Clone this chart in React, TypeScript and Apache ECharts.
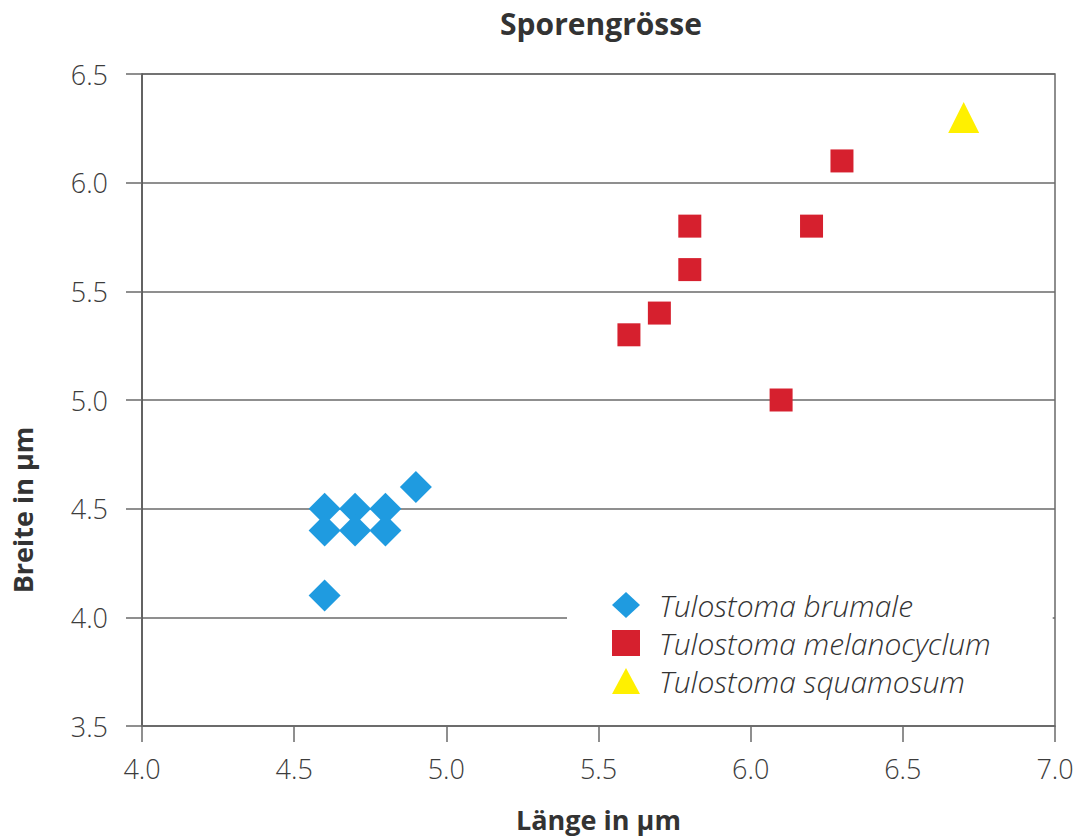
import React, { useEffect, useRef } from "react";
import * as echarts from "echarts";

const titleText = "Sporengrösse";
const xName = "Länge in µm";
const yName = "Breite in µm";

const seriesNames = ["Tulostoma brumale", "Tulostoma melanocyclum", "Tulostoma squamosum"];

const brumale: [number, number][] = [
  [4.6, 4.5], [4.6, 4.4], [4.7, 4.5], [4.7, 4.4], [4.8, 4.5], [4.8, 4.4], [4.9, 4.6], [4.6, 4.1],
];
const melanocyclum: [number, number][] = [
  [5.6, 5.3], [5.7, 5.4], [5.8, 5.8], [5.8, 5.6], [6.1, 5.0], [6.2, 5.8], [6.3, 6.1],
];
const squamosum: [number, number][] = [[6.7, 6.3]];

const colors = ["#1f9be0", "#d6202e", "#fff000"];

export default function App() {
  const ref = useRef<HTMLDivElement>(null);
  useEffect(() => {
    if (!ref.current) return;
    const chart = echarts.init(ref.current, undefined, { renderer: "svg" });
    const lineColor = "#6a6a6a";
    const labelStyle = {
      fontFamily: "Open Sans",
      fontSize: 27,
      color: "#3c3c3c",
      fontWeight: 300 as any,
    };
    chart.setOption({
      animation: false,
      backgroundColor: "#ffffff",
      title: {
        text: titleText,
        left: 596,
        top: 3,
        textAlign: "center",
        textStyle: {
          fontFamily: "Open Sans",
          fontWeight: "bold",
          fontSize: 30,
          color: "#333333",
        },
      },
      grid: {
        left: 142,
        right: 25,
        top: 74,
        bottom: 112,
        show: true,
        borderColor: lineColor,
        borderWidth: 1.5,
        backgroundColor: "transparent",
      },
      legend: {
        orient: "vertical",
        left: 567,
        top: 586,
        backgroundColor: "#ffffff",
        padding: [4, 62, 4, 45],
        itemWidth: 28,
        itemHeight: 26,
        itemGap: 8,
        data: [
          { name: seriesNames[0], icon: "diamond" },
          { name: seriesNames[1], icon: "rect" },
          { name: seriesNames[2], icon: "triangle" },
        ],
        textStyle: {
          fontFamily: "Open Sans",
          fontStyle: "italic",
          fontWeight: 300 as any,
          fontSize: 30,
          lineHeight: 30,
          color: "#333333",
          padding: [0, 0, 0, 14],
        },
      },
      xAxis: {
        type: "value",
        min: 4.0,
        max: 7.0,
        interval: 0.5,
        name: xName,
        nameLocation: "middle",
        nameGap: 80,
        nameTextStyle: {
          fontFamily: "Open Sans",
          fontWeight: "bold",
          fontSize: 27,
          color: "#333333",
        },
        axisLine: { show: true, lineStyle: { color: lineColor, width: 1.5 } },
        axisTick: { show: true, length: 16, lineStyle: { color: lineColor, width: 1.5 } },
        axisLabel: { ...labelStyle, margin: 29, formatter: (v: number) => v.toFixed(1) },
        splitLine: { show: false },
      },
      yAxis: {
        type: "value",
        min: 3.5,
        max: 6.5,
        interval: 0.5,
        axisLine: { show: true, lineStyle: { color: "#555555", width: 1.5 } },
        axisTick: { show: true, length: 16, lineStyle: { color: lineColor, width: 1.5 } },
        axisLabel: { ...labelStyle, margin: 34, formatter: (v: number) => v.toFixed(1) },
        splitLine: { show: true, lineStyle: { color: lineColor, width: 1.5 } },
      },
      graphic: [
        {
          type: "text",
          x: 22,
          y: 510,
          rotation: Math.PI / 2,
          style: {
            text: yName,
            fontFamily: "Open Sans",
            fontWeight: "bold",
            fontSize: 27,
            fill: "#333333",
            textAlign: "center",
            textVerticalAlign: "middle",
          },
        },
      ],
      series: [
        {
          name: seriesNames[0],
          type: "scatter",
          symbol: "diamond",
          symbolSize: 32,
          data: brumale,
          itemStyle: { color: colors[0], opacity: 1 },
          z: 3,
        },
        {
          name: seriesNames[1],
          type: "scatter",
          symbol: "rect",
          symbolSize: 23,
          data: melanocyclum,
          itemStyle: { color: colors[1], opacity: 1 },
          z: 3,
        },
        {
          name: seriesNames[2],
          type: "scatter",
          symbol: "triangle",
          symbolSize: 31,
          data: squamosum,
          itemStyle: { color: colors[2], opacity: 1 },
          z: 3,
        },
      ],
    });
    return () => chart.dispose();
  }, []);
  return <div ref={ref} style={{ width: 1080, height: 838, position: "absolute", left: 0, top: 0 }} />;
}
